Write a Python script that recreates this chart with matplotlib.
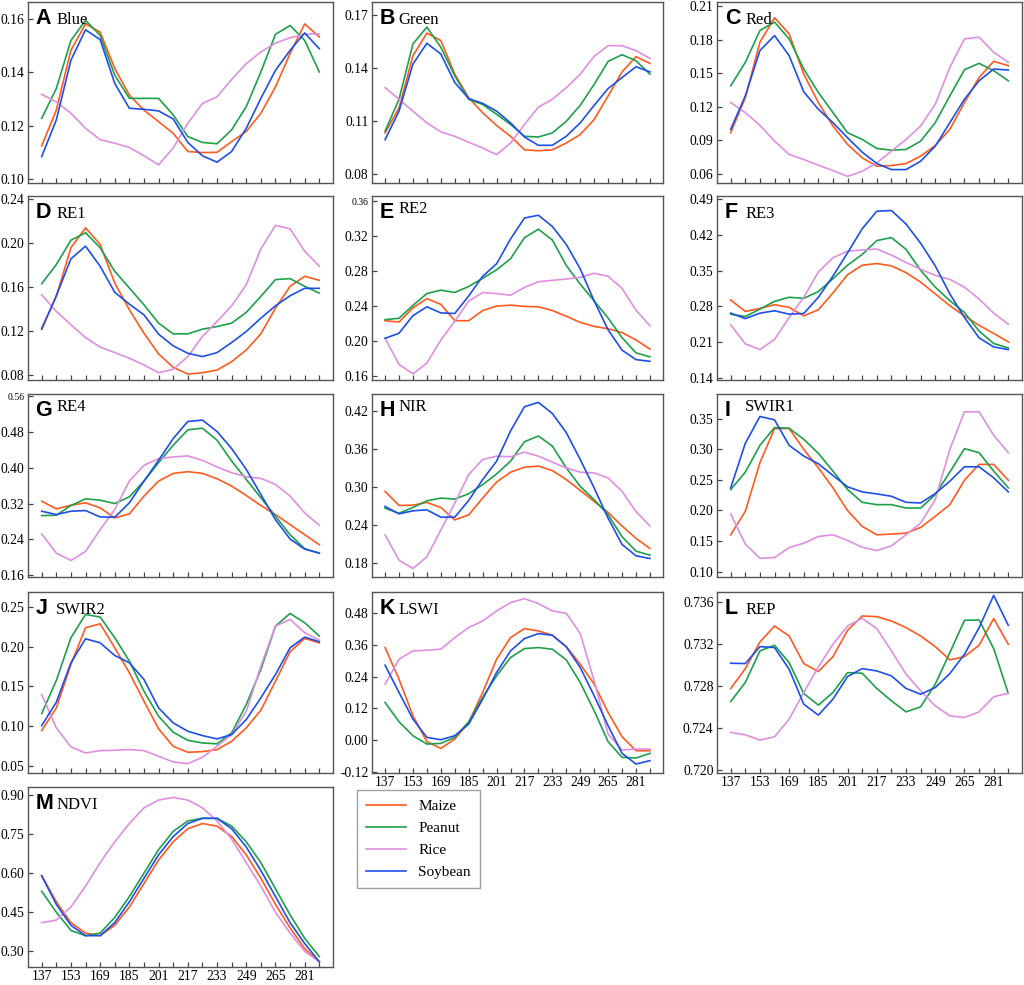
import matplotlib
matplotlib.use("Agg")
import matplotlib.pyplot as plt
from matplotlib.ticker import FormatStrFormatter

# day of year of each composite (8-day steps)
doy = [137, 145, 153, 161, 169, 177, 185, 193, 201, 209,
       217, 225, 233, 241, 249, 257, 265, 273, 281, 289]
crops = ["Maize", "Peanut", "Rice", "Soybean"]
colors = ["#ff5a1f", "#1ea04b", "#df8fe0", "#1e4fe6"]

# each band: [maize, peanut, rice, soybean]
blue = [
    [0.1124, 0.1258, 0.1482, 0.1581, 0.1550, 0.1414, 0.1314, 0.1258, 0.1215, 0.1171,
     0.1103, 0.1099, 0.1100, 0.1140, 0.1178, 0.1246, 0.1345, 0.1470, 0.1581, 0.1532],
    [0.1227, 0.1339, 0.1519, 0.1594, 0.1538, 0.1389, 0.1302, 0.1302, 0.1302, 0.1240,
     0.1159, 0.1137, 0.1132, 0.1184, 0.1271, 0.1401, 0.1542, 0.1575, 0.1519, 0.1401],
    [0.1317, 0.1289, 0.1246, 0.1190, 0.1147, 0.1134, 0.1118, 0.1087, 0.1053, 0.1116,
     0.1209, 0.1283, 0.1308, 0.1373, 0.1432, 0.1476, 0.1509, 0.1529, 0.1542, 0.1544],
    [0.1084, 0.1221, 0.1445, 0.1559, 0.1522, 0.1358, 0.1265, 0.1261, 0.1255, 0.1225,
     0.1137, 0.1087, 0.1063, 0.1103, 0.1190, 0.1302, 0.1407, 0.1482, 0.1547, 0.1488],
]
green = [
    [0.1032, 0.1174, 0.1468, 0.1596, 0.1554, 0.1364, 0.1231, 0.1146, 0.1074, 0.1013,
     0.0937, 0.0931, 0.0937, 0.0975, 0.1023, 0.1108, 0.1241, 0.1377, 0.1463, 0.1425],
    [0.1042, 0.1222, 0.1535, 0.1630, 0.1516, 0.1355, 0.1222, 0.1193, 0.1137, 0.1080,
     0.1013, 0.1009, 0.1032, 0.1098, 0.1188, 0.1307, 0.1436, 0.1474, 0.1440, 0.1364],
    [0.1288, 0.1222, 0.1155, 0.1089, 0.1038, 0.1013, 0.0979, 0.0947, 0.0909, 0.0975,
     0.1080, 0.1178, 0.1222, 0.1288, 0.1364, 0.1465, 0.1525, 0.1525, 0.1497, 0.1453],
    [0.0994, 0.1155, 0.1421, 0.1539, 0.1478, 0.1317, 0.1226, 0.1199, 0.1155, 0.1089,
     0.1009, 0.0962, 0.0962, 0.1013, 0.1089, 0.1188, 0.1283, 0.1345, 0.1406, 0.1377],
]
red = [
    [0.0966, 0.1280, 0.1776, 0.1995, 0.1851, 0.1491, 0.1236, 0.1026, 0.0861, 0.0741,
     0.0666, 0.0672, 0.0690, 0.0756, 0.0852, 0.0996, 0.1236, 0.1461, 0.1605, 0.1566],
    [0.1386, 0.1596, 0.1881, 0.1956, 0.1806, 0.1536, 0.1326, 0.1146, 0.0966, 0.0906,
     0.0825, 0.0810, 0.0816, 0.0891, 0.1056, 0.1296, 0.1530, 0.1587, 0.1521, 0.1431],
    [0.1236, 0.1146, 0.1032, 0.0891, 0.0771, 0.0726, 0.0675, 0.0627, 0.0576, 0.0621,
     0.0696, 0.0801, 0.0906, 0.1026, 0.1221, 0.1551, 0.1806, 0.1821, 0.1686, 0.1596],
    [0.0996, 0.1296, 0.1701, 0.1836, 0.1656, 0.1332, 0.1176, 0.1056, 0.0921, 0.0792,
     0.0690, 0.0636, 0.0636, 0.0711, 0.0846, 0.1056, 0.1266, 0.1431, 0.1536, 0.1527],
]
re1 = [
    [0.1227, 0.1515, 0.1955, 0.2136, 0.1985, 0.1636, 0.1394, 0.1182, 0.0994, 0.0873,
     0.0812, 0.0824, 0.0848, 0.0924, 0.1030, 0.1176, 0.1409, 0.1606, 0.1697, 0.1661],
    [0.1630, 0.1803, 0.2024, 0.2091, 0.1955, 0.1742, 0.1591, 0.1439, 0.1273, 0.1176,
     0.1176, 0.1218, 0.1242, 0.1273, 0.1370, 0.1515, 0.1667, 0.1676, 0.1606, 0.1545],
    [0.1530, 0.1379, 0.1258, 0.1142, 0.1055, 0.1006, 0.0955, 0.0894, 0.0824, 0.0855,
     0.0970, 0.1152, 0.1288, 0.1430, 0.1621, 0.1945, 0.2158, 0.2127, 0.1924, 0.1788],
    [0.1218, 0.1521, 0.1855, 0.1970, 0.1788, 0.1552, 0.1445, 0.1348, 0.1173, 0.1067,
     0.1000, 0.0970, 0.1006, 0.1097, 0.1197, 0.1318, 0.1430, 0.1521, 0.1588, 0.1588],
]
re2 = [
    [0.2234, 0.2219, 0.2381, 0.2486, 0.2420, 0.2234, 0.2234, 0.2350, 0.2401, 0.2412,
     0.2397, 0.2393, 0.2350, 0.2285, 0.2215, 0.2169, 0.2142, 0.2099, 0.2014, 0.1910],
    [0.2246, 0.2262, 0.2409, 0.2544, 0.2583, 0.2556, 0.2625, 0.2718, 0.2815, 0.2942,
     0.3182, 0.3279, 0.3155, 0.2865, 0.2652, 0.2459, 0.2265, 0.2041, 0.1867, 0.1821],
    [0.2033, 0.1735, 0.1627, 0.1751, 0.2014, 0.2227, 0.2459, 0.2556, 0.2544, 0.2525,
     0.2614, 0.2679, 0.2695, 0.2710, 0.2730, 0.2776, 0.2741, 0.2602, 0.2354, 0.2176],
    [0.2033, 0.2091, 0.2292, 0.2393, 0.2323, 0.2316, 0.2517, 0.2741, 0.2884, 0.3167,
     0.3407, 0.3438, 0.3310, 0.3105, 0.2826, 0.2459, 0.2130, 0.1898, 0.1790, 0.1770],
]
re3 = [
    [0.2926, 0.2703, 0.2762, 0.2834, 0.2782, 0.2617, 0.2736, 0.3064, 0.3420, 0.3604,
     0.3637, 0.3591, 0.3459, 0.3275, 0.3045, 0.2814, 0.2617, 0.2433, 0.2275, 0.2110],
    [0.2650, 0.2604, 0.2749, 0.2900, 0.2979, 0.2959, 0.3091, 0.3341, 0.3604, 0.3814,
     0.4084, 0.4143, 0.3913, 0.3505, 0.3176, 0.2913, 0.2683, 0.2321, 0.2078, 0.1992],
    [0.2441, 0.2072, 0.1960, 0.2158, 0.2584, 0.2979, 0.3472, 0.3749, 0.3880, 0.3900,
     0.3920, 0.3801, 0.3657, 0.3525, 0.3407, 0.3328, 0.3176, 0.2946, 0.2670, 0.2453],
    [0.2670, 0.2564, 0.2670, 0.2716, 0.2650, 0.2663, 0.2979, 0.3393, 0.3847, 0.4314,
     0.4657, 0.4670, 0.4407, 0.4032, 0.3591, 0.3045, 0.2584, 0.2189, 0.2012, 0.1959],
]
re4 = [
    [0.3255, 0.3083, 0.3166, 0.3218, 0.3106, 0.2881, 0.2971, 0.3368, 0.3705, 0.3877,
     0.3915, 0.3877, 0.3757, 0.3593, 0.3383, 0.3158, 0.2956, 0.2731, 0.2506, 0.2282],
    [0.2933, 0.2941, 0.3158, 0.3308, 0.3278, 0.3203, 0.3353, 0.3705, 0.4117, 0.4506,
     0.4851, 0.4888, 0.4619, 0.4154, 0.3742, 0.3330, 0.2918, 0.2506, 0.2192, 0.2094],
    [0.2521, 0.2094, 0.1930, 0.2132, 0.2619, 0.3070, 0.3705, 0.4057, 0.4207, 0.4244,
     0.4267, 0.4169, 0.4019, 0.3892, 0.3802, 0.3765, 0.3630, 0.3368, 0.2993, 0.2716],
    [0.3031, 0.2956, 0.3031, 0.3046, 0.2903, 0.2896, 0.3218, 0.3705, 0.4169, 0.4656,
     0.5038, 0.5068, 0.4813, 0.4431, 0.3967, 0.3405, 0.2843, 0.2409, 0.2184, 0.2094],
]
nir = [
    [0.2933, 0.2710, 0.2715, 0.2758, 0.2678, 0.2481, 0.2561, 0.2827, 0.3082, 0.3237,
     0.3317, 0.3333, 0.3263, 0.3120, 0.2949, 0.2774, 0.2598, 0.2385, 0.2188, 0.2029],
    [0.2667, 0.2587, 0.2678, 0.2784, 0.2827, 0.2811, 0.2896, 0.3040, 0.3210, 0.3412,
     0.3721, 0.3811, 0.3652, 0.3306, 0.3013, 0.2800, 0.2561, 0.2215, 0.1986, 0.1922],
    [0.2242, 0.1843, 0.1710, 0.1896, 0.2321, 0.2747, 0.3200, 0.3439, 0.3492, 0.3482,
     0.3556, 0.3492, 0.3396, 0.3306, 0.3237, 0.3226, 0.3146, 0.2933, 0.2614, 0.2385],
    [0.2694, 0.2577, 0.2625, 0.2641, 0.2524, 0.2524, 0.2790, 0.3120, 0.3412, 0.3891,
     0.4275, 0.4344, 0.4168, 0.3865, 0.3439, 0.2987, 0.2508, 0.2092, 0.1912, 0.1869],
]
swir1 = [
    [0.1602, 0.1985, 0.2778, 0.3336, 0.3336, 0.2997, 0.2696, 0.2368, 0.1996, 0.1739,
     0.1602, 0.1613, 0.1629, 0.1722, 0.1903, 0.2094, 0.2493, 0.2751, 0.2751, 0.2493],
    [0.2340, 0.2625, 0.3062, 0.3352, 0.3341, 0.3161, 0.2931, 0.2641, 0.2340, 0.2132,
     0.2094, 0.2094, 0.2039, 0.2039, 0.2258, 0.2625, 0.3008, 0.2942, 0.2641, 0.2368],
    [0.1941, 0.1449, 0.1219, 0.1230, 0.1394, 0.1465, 0.1574, 0.1602, 0.1509, 0.1399,
     0.1345, 0.1421, 0.1602, 0.1793, 0.2176, 0.2997, 0.3609, 0.3609, 0.3226, 0.2942],
    [0.2368, 0.3095, 0.3533, 0.3478, 0.3062, 0.2887, 0.2761, 0.2570, 0.2384, 0.2302,
     0.2269, 0.2231, 0.2132, 0.2121, 0.2275, 0.2477, 0.2712, 0.2712, 0.2532, 0.2302],
]
swir2 = [
    [0.0942, 0.1228, 0.1776, 0.2239, 0.2289, 0.1986, 0.1671, 0.1313, 0.0963, 0.0744,
     0.0668, 0.0677, 0.0702, 0.0807, 0.0976, 0.1199, 0.1565, 0.1936, 0.2104, 0.2049],
    [0.1157, 0.1574, 0.2113, 0.2407, 0.2374, 0.2113, 0.1818, 0.1439, 0.1123, 0.0921,
     0.0820, 0.0786, 0.0774, 0.0913, 0.1271, 0.1713, 0.2260, 0.2420, 0.2302, 0.2134],
    [0.1397, 0.0976, 0.0736, 0.0660, 0.0689, 0.0694, 0.0702, 0.0689, 0.0618, 0.0546,
     0.0525, 0.0605, 0.0744, 0.0892, 0.1186, 0.1755, 0.2260, 0.2344, 0.2176, 0.2083],
    [0.1005, 0.1300, 0.1797, 0.2100, 0.2049, 0.1889, 0.1797, 0.1586, 0.1228, 0.1039,
     0.0934, 0.0879, 0.0837, 0.0892, 0.1081, 0.1355, 0.1649, 0.1986, 0.2121, 0.2062],
]
lswi = [
    [0.3501, 0.2303, 0.0916, -0.0067, -0.0320, 0.0033, 0.0664, 0.1799, 0.3060, 0.3880,
     0.4220, 0.4132, 0.3968, 0.3539, 0.2871, 0.2114, 0.1042, 0.0122, -0.0408, -0.0408],
    [0.1420, 0.0689, 0.0159, -0.0156, -0.0131, 0.0096, 0.0689, 0.1610, 0.2429, 0.3123,
     0.3463, 0.3501, 0.3438, 0.3035, 0.2177, 0.1105, -0.0067, -0.0660, -0.0685, -0.0509],
    [0.2114, 0.3060, 0.3375, 0.3400, 0.3438, 0.3880, 0.4258, 0.4510, 0.4888, 0.5203,
     0.5355, 0.5166, 0.4888, 0.4800, 0.4031, 0.2240, 0.0222, -0.0383, -0.0345, -0.0345],
    [0.2833, 0.1799, 0.0790, 0.0096, 0.0008, 0.0159, 0.0601, 0.1547, 0.2555, 0.3375,
     0.3842, 0.4031, 0.3968, 0.3526, 0.2745, 0.1673, 0.0538, -0.0509, -0.0912, -0.0786],
]
rep = [
    [0.72775, 0.72964, 0.73217, 0.73369, 0.73274, 0.73012, 0.72936, 0.73078, 0.73328, 0.73464,
     0.73458, 0.73417, 0.73353, 0.73274, 0.73173, 0.73047, 0.73078, 0.73186, 0.73439, 0.73195],
    [0.72651, 0.72832, 0.73132, 0.73186, 0.73021, 0.72727, 0.72617, 0.72737, 0.72926, 0.72920,
     0.72775, 0.72658, 0.72553, 0.72601, 0.72816, 0.73116, 0.73423, 0.73426, 0.73154, 0.72727],
    [0.72357, 0.72335, 0.72285, 0.72316, 0.72484, 0.72737, 0.72980, 0.73195, 0.73369, 0.73442,
     0.73344, 0.73132, 0.72911, 0.72753, 0.72610, 0.72515, 0.72500, 0.72553, 0.72696, 0.72730],
    [0.73015, 0.73012, 0.73173, 0.73164, 0.72958, 0.72626, 0.72522, 0.72674, 0.72889, 0.72964,
     0.72942, 0.72895, 0.72775, 0.72721, 0.72784, 0.72917, 0.73100, 0.73353, 0.73660, 0.73375],
]
ndvi = [
    [0.59, 0.49, 0.41, 0.37, 0.36, 0.40, 0.47, 0.56, 0.65, 0.72,
     0.77, 0.79, 0.78, 0.74, 0.67, 0.58, 0.48, 0.39, 0.31, 0.26],
    [0.53, 0.45, 0.38, 0.36, 0.37, 0.43, 0.51, 0.60, 0.69, 0.76,
     0.80, 0.81, 0.81, 0.78, 0.72, 0.64, 0.54, 0.44, 0.35, 0.28],
    [0.41, 0.42, 0.47, 0.55, 0.64, 0.72, 0.79, 0.85, 0.88, 0.89,
     0.88, 0.85, 0.80, 0.73, 0.64, 0.55, 0.45, 0.37, 0.30, 0.26],
    [0.59, 0.48, 0.40, 0.36, 0.36, 0.41, 0.49, 0.58, 0.67, 0.74,
     0.79, 0.81, 0.81, 0.77, 0.70, 0.61, 0.51, 0.41, 0.33, 0.26],
]

letters = list("ABCDEFGHIJKLM")
names = ["Blue", "Green", "Red", "RE1", "RE2", "RE3", "RE4", "NIR",
         "SWIR1", "SWIR2", "LSWI", "REP", "NDVI"]
bands = [blue, green, red, re1, re2, re3, re4, nir, swir1, swir2, lswi, rep, ndvi]
yticks = [
    [0.10, 0.12, 0.14, 0.16],
    [0.08, 0.11, 0.14, 0.17],
    [0.06, 0.09, 0.12, 0.15, 0.18, 0.21],
    [0.08, 0.12, 0.16, 0.20, 0.24],
    [0.16, 0.20, 0.24, 0.28, 0.32, 0.36],
    [0.14, 0.21, 0.28, 0.35, 0.42, 0.49],
    [0.16, 0.24, 0.32, 0.40, 0.48, 0.56],
    [0.18, 0.24, 0.30, 0.36, 0.42],
    [0.10, 0.15, 0.20, 0.25, 0.30, 0.35],
    [0.05, 0.10, 0.15, 0.20, 0.25],
    [-0.12, 0.00, 0.12, 0.24, 0.36, 0.48],
    [0.720, 0.724, 0.728, 0.732, 0.736],
    [0.30, 0.45, 0.60, 0.75, 0.90],
]
ylims = [(0.0985, 0.1663), (0.0749, 0.1772), (0.0516, 0.2136), (0.0758, 0.2424),
         (0.1557, 0.3658), (0.1367, 0.4953), (0.156, 0.5652), (0.1576, 0.4477),
         (0.0913, 0.39), (0.0407, 0.269), (-0.1253, 0.5607), (0.71972, 0.73692),
         (0.24, 0.93)]
raised = {"E", "G", "H", "I"}
small_top = {"E", "G"}

W, H = 1024, 985
cols = [(28, 333), (372, 663), (717, 1022)]
rows = [(2, 183), (196, 380), (394, 577), (592, 773), (787, 967)]

serif = "Liberation Serif"
fig = plt.figure(figsize=(W / 100, H / 100), dpi=100)

for k, band in enumerate(bands):
    r, c = divmod(k, 3)
    x0, x1 = cols[c]
    y0, y1 = rows[r]
    ax = fig.add_axes([x0 / W, 1 - y1 / H, (x1 - x0) / W, (y1 - y0) / H])
    for vals, crop, col in zip(band, crops, colors):
        ax.plot(doy, vals, color=col, lw=1.2, label=crop)
    ax.set_xlim(129.5, 296.5)
    ax.set_ylim(*ylims[k])
    ax.set_yticks(yticks[k])
    ax.yaxis.set_major_formatter(FormatStrFormatter("%.3f" if names[k] == "REP" else "%.2f"))
    ax.set_xticks(doy)
    bottom = (r == 3 and c > 0) or r == 4
    if bottom:
        ax.set_xticklabels([str(d) if i % 2 == 0 else "" for i, d in enumerate(doy)])
    else:
        ax.set_xticklabels([])
    ax.tick_params(direction="in", length=3.5, width=0.9, color="#444",
                   labelsize=9.8, pad=2.5)
    for lab in ax.get_xticklabels() + ax.get_yticklabels():
        lab.set_fontfamily(serif)
    if letters[k] in small_top:
        ax.get_yticklabels()[-1].set_fontsize(7)
    for sp in ax.spines.values():
        sp.set_color("#555555")
        sp.set_linewidth(1.0)
    ax.text(0.025, 0.965, letters[k], transform=ax.transAxes, ha="left", va="top",
            fontsize=15.5, fontweight="heavy", family="Liberation Sans")
    ny = 0.975 if letters[k] in raised else 0.945
    ax.text(0.092, ny, names[k], transform=ax.transAxes, ha="left", va="top",
            fontsize=12, family=serif)
    if k == 12:
        handles, labels = ax.get_legend_handles_labels()

fig.legend(handles, labels, loc="upper left",
           bbox_to_anchor=(357 / W, 1 - 790 / H), borderaxespad=0, fancybox=False,
           edgecolor="#888888", prop={"family": serif, "size": 11},
           handlelength=2.6, labelspacing=0.55, borderpad=0.6)

fig.savefig("out.png", dpi=100)
